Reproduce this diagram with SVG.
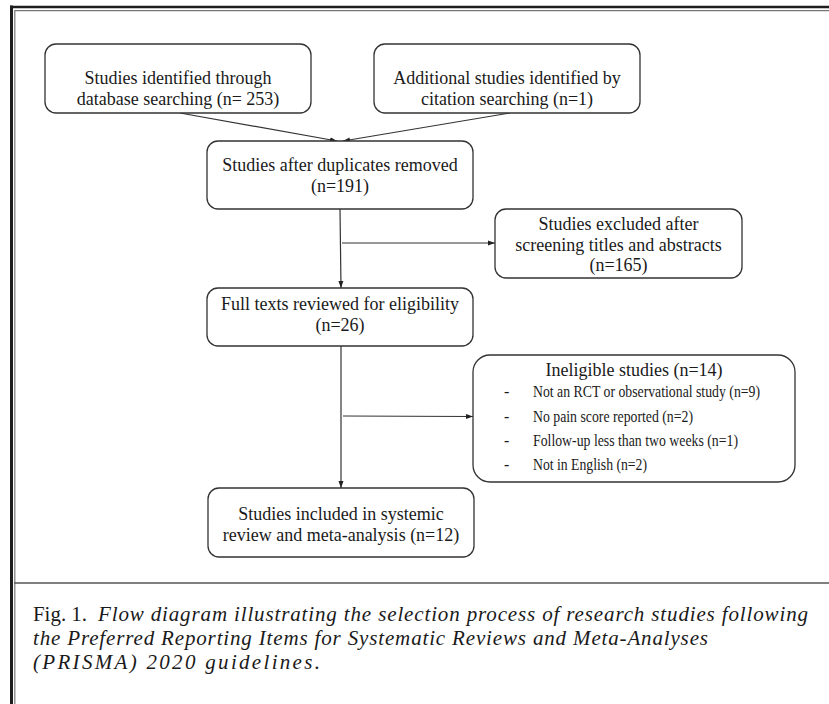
<svg xmlns="http://www.w3.org/2000/svg" width="829" height="704" viewBox="0 0 829 704">
<style>
.box{fill:#fff;stroke:#333;stroke-width:1.3}
.t{font-family:"Liberation Serif","Times New Roman",serif;font-size:18px;fill:#1a1a1a;text-anchor:middle}
.s{font-family:"Liberation Serif","Times New Roman",serif;font-size:16px;fill:#1a1a1a}
.c{font-family:"Liberation Serif","Times New Roman",serif;font-size:21px;fill:#1a1a1a}
.ci{font-style:italic}
.ln{fill:none;stroke:#333;stroke-width:1.2}
</style>
<defs>
<marker id="ah" markerWidth="8" markerHeight="6" refX="7" refY="3" orient="auto" markerUnits="userSpaceOnUse">
<path d="M0,0.5 L7,3 L0,5.5 Z" fill="#222"/>
</marker>
</defs>
<rect x="0" y="0" width="829" height="704" fill="#fff"/>
<g id="frame">
<line x1="11.5" y1="5.5" x2="11.5" y2="704" stroke="#1e1e1e" stroke-width="3"/>
<line x1="10" y1="7" x2="829" y2="7" stroke="#1e1e1e" stroke-width="2.6"/>
<line x1="14.8" y1="10.5" x2="14.8" y2="704" stroke="#777" stroke-width="1.2"/>
<line x1="14.2" y1="10.6" x2="829" y2="10.6" stroke="#777" stroke-width="1.2"/>
<line x1="14.2" y1="583" x2="829" y2="583" stroke="#555" stroke-width="1.6"/>
</g>
<g id="connectors">
<line class="ln" x1="180" y1="113" x2="337" y2="141" marker-end="url(#ah)"/>
<line class="ln" x1="510" y1="113" x2="343" y2="141" marker-end="url(#ah)"/>
<line class="ln" x1="340" y1="209" x2="341" y2="288" marker-end="url(#ah)"/>
<line class="ln" x1="342" y1="243" x2="495" y2="243" marker-end="url(#ah)"/>
<line class="ln" x1="341" y1="346" x2="341" y2="488" marker-end="url(#ah)"/>
<line class="ln" x1="343" y1="416" x2="473" y2="416.5" marker-end="url(#ah)"/>
</g>
<g id="n1">
<rect class="box" x="45" y="44" width="266" height="69" rx="11"/>
<text class="t" x="178" y="84">Studies identified through</text>
<text class="t" x="178" y="105">database searching (n= 253)</text>
</g>
<g id="n2">
<rect class="box" x="374" y="44" width="266" height="69" rx="11"/>
<text class="t" x="507" y="84">Additional studies identified by</text>
<text class="t" x="507" y="105">citation searching (n=1)</text>
</g>
<g id="n3">
<rect class="box" x="207" y="141" width="266" height="68" rx="11"/>
<text class="t" x="340" y="171">Studies after duplicates removed</text>
<text class="t" x="340" y="192">(n=191)</text>
</g>
<g id="n4">
<rect class="box" x="495" y="209" width="247" height="69" rx="11"/>
<text class="t" x="618.5" y="230">Studies excluded after</text>
<text class="t" x="618.5" y="251">screening titles and abstracts</text>
<text class="t" x="618.5" y="271">(n=165)</text>
</g>
<g id="n5">
<rect class="box" x="207" y="288" width="266" height="58" rx="11"/>
<text class="t" x="340" y="310">Full texts reviewed for eligibility</text>
<text class="t" x="340" y="331">(n=26)</text>
</g>
<g id="n6">
<rect class="box" x="473" y="355" width="322" height="127" rx="17"/>
<text class="t" x="634" y="376">Ineligible studies (n=14)</text>
<text class="s" x="504" y="397">-</text>
<text class="s" x="533" y="397" textLength="227" lengthAdjust="spacingAndGlyphs">Not an RCT or observational study (n=9)</text>
<text class="s" x="504" y="422">-</text>
<text class="s" x="533" y="422" textLength="160" lengthAdjust="spacingAndGlyphs">No pain score reported (n=2)</text>
<text class="s" x="504" y="446">-</text>
<text class="s" x="533" y="446" textLength="205" lengthAdjust="spacingAndGlyphs">Follow-up less than two weeks (n=1)</text>
<text class="s" x="504" y="470">-</text>
<text class="s" x="533" y="470" textLength="114" lengthAdjust="spacingAndGlyphs">Not in English (n=2)</text>
</g>
<g id="n7">
<rect class="box" x="208" y="488" width="266" height="69" rx="11"/>
<text class="t" x="341" y="520">Studies included in systemic</text>
<text class="t" x="341" y="541">review and meta-analysis (n=12)</text>
</g>
<g id="caption">
<text class="c" x="33" y="621" textLength="54" lengthAdjust="spacingAndGlyphs">Fig. 1.</text>
<text class="c ci" x="98" y="621" textLength="710" lengthAdjust="spacing">Flow diagram illustrating the selection process of  research studies following</text>
<text class="c ci" x="33" y="645" textLength="675" lengthAdjust="spacing">the Preferred Reporting Items for Systematic Reviews and Meta-Analyses</text>
<text class="c ci" x="33" y="669" textLength="287" lengthAdjust="spacing">(PRISMA) 2020 guidelines.</text>
</g>
</svg>
